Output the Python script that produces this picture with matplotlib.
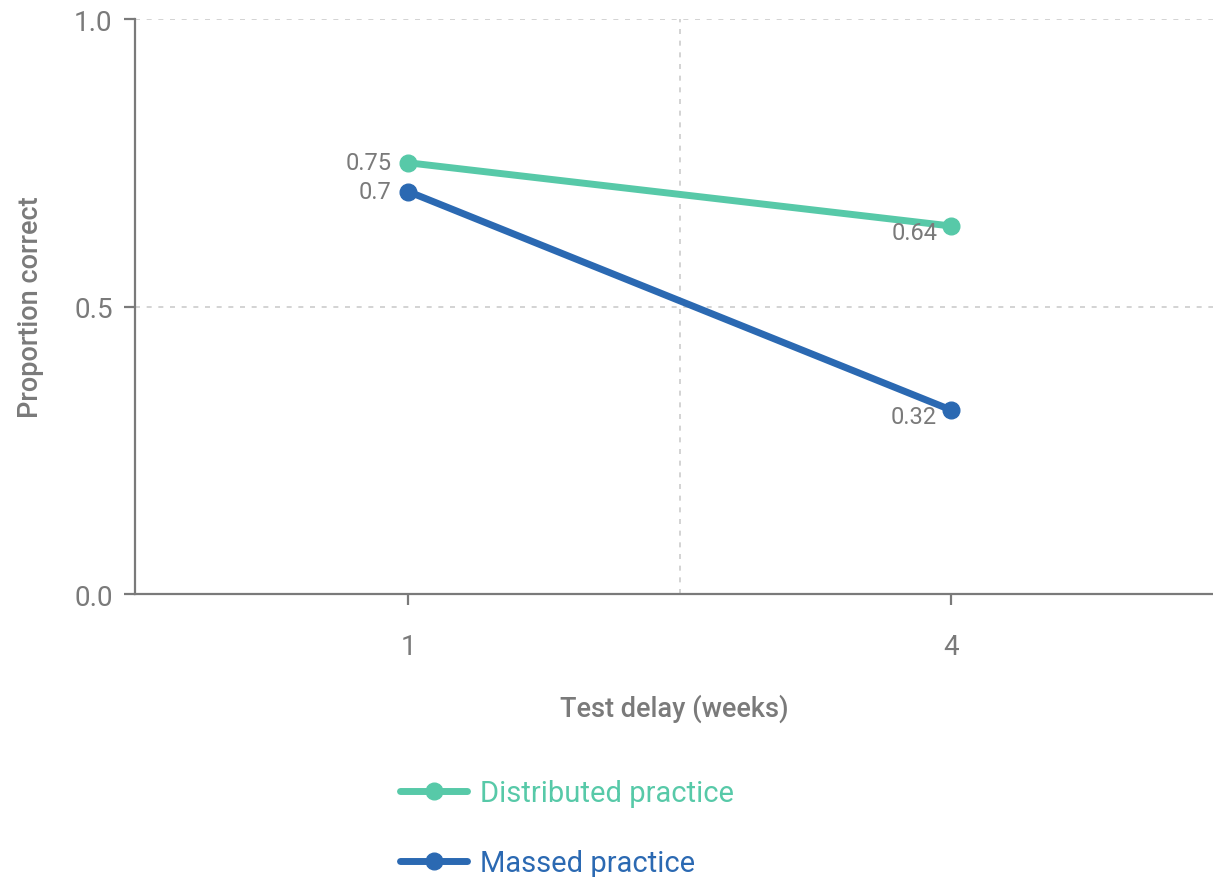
import numpy as np
import matplotlib.pyplot as plt

plt.rcParams['font.family'] = ['Roboto', 'DejaVu Sans']

delays = ["1", "4"]
distributed = [0.75, 0.64]
massed = [0.70, 0.32]
y_ticks = [0.0, 0.5, 1.0]

teal = "#57C9A8"
blue = "#2B69B2"
grey = "#7a7a7a"

fig = plt.figure(figsize=(12.13, 8.78), dpi=100)
ax = fig.add_axes([135 / 1213, 1 - 595 / 878, 1 - 135 / 1213, (595 - 20) / 878])

x = np.arange(len(delays))
ax.plot(x, distributed, color=teal, lw=5, marker="o", ms=12,
        solid_capstyle="round", label="Distributed practice", zorder=3)
ax.plot(x, massed, color=blue, lw=5, marker="o", ms=12,
        solid_capstyle="round", label="Massed practice", zorder=3)

# value labels: left of first point, lower-left of second
for series in (distributed, massed):
    ax.annotate(f"{series[0]:g}", (x[0], series[0]), xytext=(-12, 0),
                textcoords="offset points", ha="right", va="center",
                fontsize=17, color=grey)
    ax.annotate(f"{series[1]:g}", (x[1], series[1]), xytext=(-10, -5),
                textcoords="offset points", ha="right", va="center",
                fontsize=17, color=grey)

ax.set_xlim(-0.503, 1.4825)
ax.set_ylim(0, 1.0)
ax.set_xticks(x)
ax.set_xticklabels(delays)
ax.set_yticks(y_ticks)
ax.set_yticklabels([f"{t:.1f}" for t in y_ticks])

# dotted grid
for t in y_ticks[1:]:
    ax.axhline(t, color="#cccccc", lw=1.2, ls=(0, (3, 4)), zorder=1)
ax.axvline(0.5, color="#cccccc", lw=1.2, ls=(0, (3, 4)), zorder=1)

for s in ("top", "right"):
    ax.spines[s].set_visible(False)
for s in ("left", "bottom"):
    ax.spines[s].set_color(grey)
    ax.spines[s].set_linewidth(1.6)
ax.spines["left"].set_bounds(0, 1.0)

ax.tick_params(axis="both", colors=grey, length=8, width=1.6,
               labelsize=20, labelcolor=grey)
ax.tick_params(axis="x", pad=20)
ax.tick_params(axis="y", pad=8)

ax.set_xlabel("Test delay (weeks)", fontsize=19.5, color=grey,
              fontweight="medium", labelpad=24)
ax.set_ylabel("Proportion correct", fontsize=19.5, color=grey,
              fontweight="medium", labelpad=22)

leg = ax.legend(loc="upper left", bbox_to_anchor=(400 / 1213, 1 - 780 / 878),
                bbox_transform=fig.transFigure, frameon=False, fontsize=21,
                handlelength=2.3, labelspacing=1.45, handletextpad=0.45,
                borderaxespad=0, borderpad=0)
for txt, c in zip(leg.get_texts(), (teal, blue)):
    txt.set_color(c)

fig.savefig("out.png", dpi=100)
